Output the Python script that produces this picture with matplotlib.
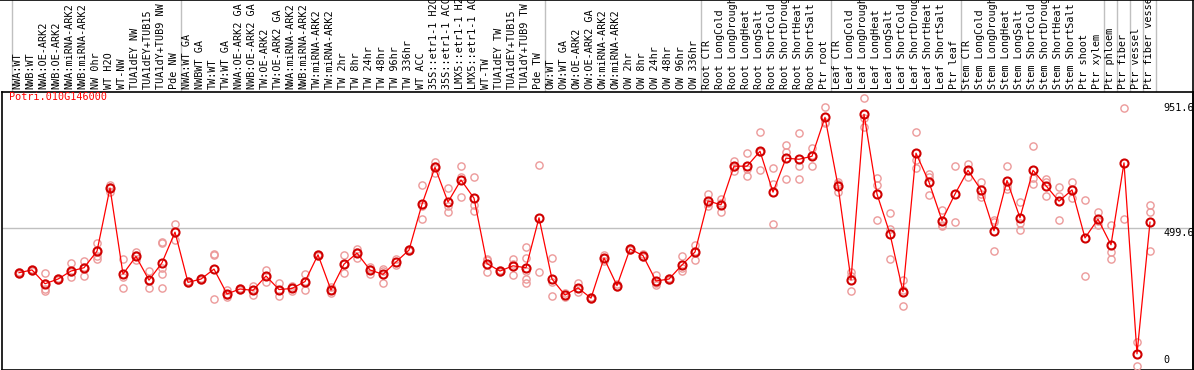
import matplotlib
matplotlib.use('Agg')
import matplotlib.pyplot as plt
import matplotlib.transforms as mtransforms
from matplotlib.lines import Line2D

# sample labels (one column each)
labels = [
    'NWA:WT', 'NWB:WT', 'NWA:OE-ARK2', 'NWB:OE-ARK2', 'NWA:miRNA-ARK2', 'NWB:miRNA-ARK2',
    'NW 0hr', 'WT H2O', 'WT-NW', 'TUA1dEY NW', 'TUA1dEY+TUB15', 'TUA1dY+TUB9 NW', 'Pde NW',
    'NWA:WT GA', 'NWBWT GA', 'TW:WT', 'TW:WT GA', 'NWA:OE-ARK2 GA', 'NWB:OE-ARK2 GA',
    'TW:OE-ARK2', 'TW:OE-ARK2 GA', 'NWA:miRNA-ARK2', 'NWB:miRNA-ARK2', 'TW:miRNA-ARK2',
    'TW:miRNA-ARK2', 'TW 2hr', 'TW 8hr', 'TW 24hr', 'TW 48hr', 'TW 96hr', 'TW 336hr',
    'WT ACC', '35S::etr1-1 H2O', '35S::etr1-1 ACC', 'LMX5::etr1-1 H2O', 'LMX5::etr1-1 ACC',
    'WT-TW', 'TUA1dEY TW', 'TUA1dEY+TUB15', 'TUA1dY+TUB9 TW', 'Pde TW',
    'OW:WT', 'OW:WT GA', 'OW:OE-ARK2', 'OW:OE-ARK2 GA', 'OW:miRNA-ARK2', 'OW:miRNA-ARK2',
    'OW 2hr', 'OW 8hr', 'OW 24hr', 'OW 48hr', 'OW 96hr', 'OW 336hr',
    'Root CTR', 'Root LongCold', 'Root LongDrought', 'Root LongHeat', 'Root LongSalt',
    'Root ShortCold', 'Root ShortDrought', 'Root ShortHeat', 'Root ShortSalt', 'Ptr root',
    'Leaf CTR', 'Leaf LongCold', 'Leaf LongDrought', 'Leaf LongHeat', 'Leaf LongSalt',
    'Leaf ShortCold', 'Leaf ShortDrought', 'Leaf ShortHeat', 'Leaf ShortSalt', 'Ptr leaf',
    'Stem CTR', 'Stem LongCold', 'Stem LongDrought', 'Stem LongHeat', 'Stem LongSalt',
    'Stem ShortCold', 'Stem ShortDrought', 'Stem ShortHeat', 'Stem ShortSalt', 'Ptr shoot',
    'Ptr xylem', 'Ptr phloem', 'Ptr fiber', 'Ptr vessel', 'Ptr fiber vessel',
]

means = [337, 347, 297, 314, 343, 355, 415, 644, 332, 396, 310, 373, 484,
         302, 314, 350, 260, 278, 273, 325, 276, 280, 305, 402, 274, 368, 408,
         347, 331, 376, 419, 585, 719, 593, 673, 607, 370, 343, 362, 355, 536,
         314, 256, 282, 245, 390, 290, 423, 399, 307, 314, 365, 412,
         597, 583, 723, 723, 777, 629, 752, 748, 759, 900,
         652, 311, 911, 622, 477, 268, 770, 665, 526, 622,
         708, 637, 489, 671, 536, 708, 652, 596, 637, 463,
         531, 438, 735, 43, 520]

replicates = [
    [333, 340, 338], [344, 350, 347], [337, 279, 269, 300], [310, 317, 314],
    [373, 323, 340], [379, 326, 358], [446, 396, 387, 420], [655, 648, 631],
    [388, 323, 282], [413, 383, 400], [342, 282, 310], [450, 444, 354, 332, 282],
    [513, 456],
    [306, 298], [317, 311], [406, 400, 242], [276, 255, 250], [280, 276],
    [290, 255, 275], [348, 302, 325], [300, 252, 276], [272, 290, 280],
    [333, 274, 308], [405, 399], [285, 263, 274], [401, 336, 367],
    [423, 389, 412], [358, 333, 350], [350, 300, 343], [388, 365], [422, 416],
    [653, 577, 531], [737, 698, 722], [643, 577, 557], [723, 683, 611],
    [683, 583, 561], [384, 339, 387], [340, 346], [388, 327, 370],
    [431, 389, 342, 300, 315], [728, 339],
    [390, 302, 253], [262, 250], [300, 267, 280], [240, 250], [402, 378, 390],
    [296, 284], [420, 426], [403, 395], [327, 294, 300], [310, 318],
    [396, 344, 355], [438, 383, 415],
    [623, 577, 591], [603, 557, 589], [743, 706, 720], [770, 687, 712],
    [847, 710, 774], [716, 513, 658], [800, 776, 676], [842, 725, 676],
    [788, 725, 764], [936, 884, 880],
    [664, 631, 660], [338, 325, 271], [969, 896, 864], [679, 655, 529],
    [553, 496, 387], [311, 276, 217], [846, 745, 716], [695, 683, 617],
    [563, 511, 505], [723, 520],
    [731, 683, 710], [665, 623, 611], [529, 414, 520], [723, 641, 650],
    [593, 517, 493], [796, 679, 659], [676, 614, 666], [649, 616, 529],
    [665, 606, 640], [601, 326],
    [557, 511, 525], [511, 412, 387], [933, 531], [86, 0], [583, 557, 414],
]

# first column of each group (gray separators drawn before them)
group_starts = [0, 13, 41, 53, 63, 73, 84, 85, 86, 87, 88]
axis_ticks = [951.6, 499.6, 0]
gene = 'Potri.010G146000'

W, H = 1194, 370
fig = plt.figure(figsize=(W / 100, H / 100), dpi=100)
# plot area: x 1.7..1193 px, y 92..369.5 px
ax = fig.add_axes([1.7 / W, 0.5 / H, (1193 - 1.7) / W, (369.5 - 92) / H])
x_of = lambda px: (px - 19) / 13.0
ax.set_xlim(x_of(1.7), x_of(1193))
ax.set_ylim(-13.7, 991.7)
ax.set_xticks([])
ax.set_yticks([])
for s in ax.spines.values():
    s.set_linewidth(1.2)
    s.set_color('black')

mono = 'DejaVu Sans Mono'
fs = 7.3

# horizontal reference line
ax.axhline(axis_ticks[1], color='#c0c0c0', lw=1, zorder=1)

# gray group separators spanning labels + plot
trans = mtransforms.blended_transform_factory(ax.transData, fig.transFigure)
trans_ax = mtransforms.blended_transform_factory(ax.transData, ax.transAxes)
for g in group_starts:
    fig.add_artist(Line2D([g - 0.55, g - 0.55], [0, 1], transform=trans,
                          color='#c0c0c0', lw=1, zorder=0))

# figure border top and right
fig.add_artist(Line2D([0, 1], [0.999, 0.999], transform=fig.transFigure, color='black', lw=1.2))
fig.add_artist(Line2D([0.9995, 0.9995], [0, 1], transform=fig.transFigure, color='black', lw=1.2))

xs = list(range(len(labels)))

# replicates
for i, reps in enumerate(replicates):
    ax.plot([i] * len(reps), reps, 'o', ms=5.2, mfc='none', mec='#ec9a9a',
            mew=1.0, zorder=3, clip_on=False)

ax.plot(xs, means, '-', color='red', lw=0.9, zorder=4)
ax.plot(xs, means, 'o', ms=5.8, mfc='none', mec='#d00000', mew=1.5, zorder=5)

# column labels (long ones run off the top edge as in the original)
for i, lab in enumerate(labels):
    fig.text(i - 0.1, (H - 89) / H, lab, transform=trans,
             rotation=90, ha='center', va='bottom',
             family=mono, fontsize=fs, color='black')

ax.text(x_of(9), 1, gene, transform=trans_ax,
        ha='left', va='top', color='red', family=mono, fontsize=fs)

# right-hand scale labels
for v in axis_ticks[:2]:
    ax.text(x_of(1163), v, f'{v:g}', ha='left', va='top', family=mono, fontsize=fs)
ax.text(x_of(1163), 0.015, '0', transform=trans_ax,
        ha='left', va='bottom', family=mono, fontsize=fs)

fig.savefig('out.png', dpi=100)
